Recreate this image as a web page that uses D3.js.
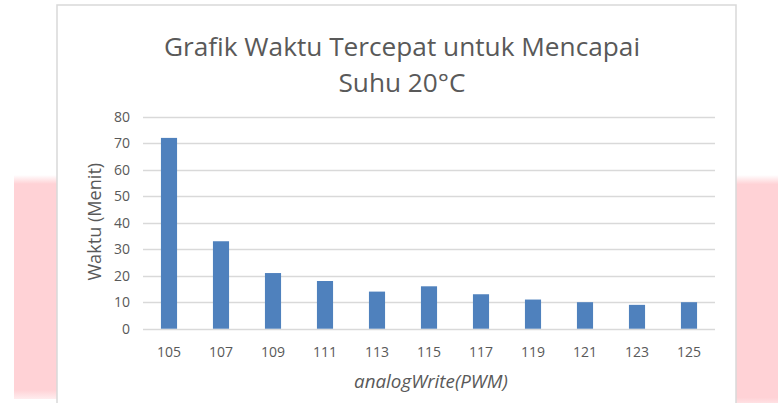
<!DOCTYPE html>
<html>
<head>
<meta charset="utf-8">
<script src="https://cdn.jsdelivr.net/npm/d3@7"></script>
<style>
  html, body { margin: 0; padding: 0; background: #ffffff; }
  svg { display: block; }
</style>
</head>
<body>
<svg id="chart" width="778" height="403"></svg>
<script>
// ---- data ----
const categories = ["105", "107", "109", "111", "113", "115", "117", "119", "121", "123", "125"];
const waktu = [72, 33, 21, 18, 14, 16, 13, 11, 10, 9, 10];
const yTicks = [0, 10, 20, 30, 40, 50, 60, 70, 80];
const titleLines = ["Grafik Waktu Tercepat untuk Mencapai", "Suhu 20°C"];
const yTitle = "Waktu (Menit)";
const xTitle = "analogWrite(PWM)";

// ---- layout ----
const W = 778, H = 403;
const box = { x0: 57, y0: 5, x1: 736, y1: 410 };
const plot = { left: 143, right: 715, top: 116.7, bottom: 328.7 };
const font = "'Open Sans', Lato, sans-serif";
const textColor = "#595959";
const gridColor = "#d9d9d9";
const barColor = "#4f81bd";

const svg = d3.select("#chart");

// scale a text's font size so its rendered width matches a target width
function fitWidth(sel, target) {
  const node = sel.node();
  const fs = parseFloat(sel.style("font-size"));
  const w = node.getComputedTextLength();
  if (w > 0) sel.style("font-size", (fs * target / w).toFixed(2) + "px");
}

// background pink watermark shapes
const defs = svg.append("defs");
const grad = defs.append("linearGradient").attr("id", "pinkfade").attr("x1", 0).attr("y1", 0).attr("x2", 0).attr("y2", 1);
grad.append("stop").attr("offset", "0%").attr("stop-color", "#ffd2d6").attr("stop-opacity", 0);
grad.append("stop").attr("offset", "4%").attr("stop-color", "#ffd2d6").attr("stop-opacity", 1);
grad.append("stop").attr("offset", "96%").attr("stop-color", "#ffd2d6").attr("stop-opacity", 1);
grad.append("stop").attr("offset", "100%").attr("stop-color", "#ffd2d6").attr("stop-opacity", 0.4);
svg.append("rect").attr("x", 14).attr("y", 175).attr("width", 44).attr("height", 224).attr("fill", "url(#pinkfade)");
svg.append("rect").attr("x", 736).attr("y", 175).attr("width", 42).attr("height", 232).attr("fill", "url(#pinkfade)");

// chart box
svg.append("rect")
  .attr("x", box.x0).attr("y", box.y0)
  .attr("width", box.x1 - box.x0).attr("height", box.y1 - box.y0)
  .attr("fill", "#ffffff").attr("stroke", gridColor).attr("stroke-width", 1.5);

// scales
const x = d3.scaleBand().domain(categories).range([plot.left, plot.right])
  .paddingInner(0.69).paddingOuter(0.345);
const y = d3.scaleLinear().domain([0, 80]).range([plot.bottom, plot.top]);

// gridlines
svg.append("g").selectAll("line").data(yTicks).join("line")
  .attr("x1", plot.left).attr("x2", plot.right)
  .attr("y1", d => Math.round(y(d)) + 0.5).attr("y2", d => Math.round(y(d)) + 0.5)
  .attr("stroke", gridColor).attr("stroke-width", 1.3);

// bars
svg.append("g").selectAll("rect").data(categories).join("rect")
  .attr("x", d => x(d))
  .attr("width", x.bandwidth())
  .attr("y", (d, i) => y(waktu[i]))
  .attr("height", (d, i) => y(0) - y(waktu[i]))
  .attr("fill", barColor);

// y axis labels
const yAxis = d3.axisLeft(y).tickValues(yTicks).tickSize(0).tickPadding(13);
const gy = svg.append("g").attr("transform", `translate(${plot.left},0)`).call(yAxis);
gy.select(".domain").remove();
gy.selectAll("text").attr("fill", textColor).style("font-family", font).style("font-size", "14px");

// x axis labels
const xAxis = d3.axisBottom(x).tickSize(0).tickPadding(18);
const gx = svg.append("g").attr("transform", `translate(0,${plot.bottom})`).call(xAxis);
gx.select(".domain").remove();
gx.selectAll("text").attr("fill", textColor).style("font-family", font).style("font-size", "14px");

// title
const titleCx = 402;
const t = svg.append("text").attr("text-anchor", "middle")
  .attr("fill", textColor).style("font-family", font).style("font-size", "24px");
const tspans = titleLines.map((line, i) =>
  t.append("tspan").attr("x", titleCx).attr("y", 56 + i * 36).text(line));
// fit title so first line spans the same width as the reference
(function () {
  const w = tspans[0].node().getComputedTextLength();
  if (w > 0) t.style("font-size", (24 * 476 / w).toFixed(2) + "px");
})();

// axis titles
const yt = svg.append("text")
  .attr("transform", `translate(101,${(plot.top + plot.bottom) / 2 - 1}) rotate(-90)`)
  .attr("text-anchor", "middle")
  .attr("fill", textColor).style("font-family", font).style("font-size", "15px")
  .text(yTitle);
fitWidth(yt, 118);

const xt = svg.append("text")
  .attr("x", 431).attr("y", 388)
  .attr("text-anchor", "middle")
  .attr("fill", textColor).style("font-family", font).style("font-size", "15px").style("font-style", "italic")
  .text(xTitle);
fitWidth(xt, 154);
</script>
</body>
</html>
